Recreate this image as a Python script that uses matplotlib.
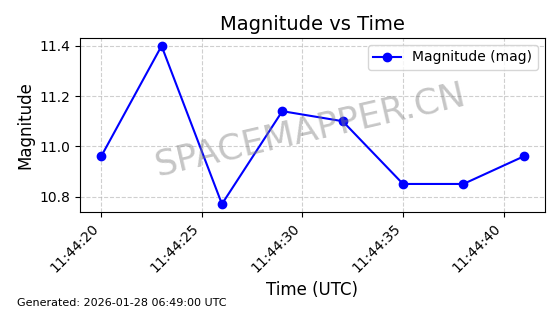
import matplotlib
matplotlib.use("Agg")
import matplotlib.pyplot as plt
import matplotlib.dates as mdates
from datetime import datetime

# data
times = ["11:44:20", "11:44:23", "11:44:26", "11:44:29",
         "11:44:32", "11:44:35", "11:44:38", "11:44:41"]
magnitudes = [10.96, 11.40, 10.77, 11.14, 11.10, 10.85, 10.85, 10.96]
generated = "Generated: 2026-01-28 06:49:00 UTC"

dts = [datetime.strptime("2026-01-28 " + t, "%Y-%m-%d %H:%M:%S") for t in times]

fig = plt.figure(figsize=(5.6, 3.14), dpi=100)
ax = fig.add_axes([0.143, 0.325, 0.83, 0.554])

ax.plot(dts, magnitudes, 'o-', color='blue', label='Magnitude (mag)')
ax.set_title('Magnitude vs Time', fontsize=14)
ax.set_xlabel('Time (UTC)', fontsize=12)
ax.set_ylabel('Magnitude', fontsize=12)
ax.grid(True, linestyle='--', alpha=0.6)
ax.legend(loc='upper right')

ax.xaxis.set_major_locator(mdates.SecondLocator(bysecond=range(0, 60, 5)))
ax.xaxis.set_major_formatter(mdates.DateFormatter('%H:%M:%S'))
plt.setp(ax.get_xticklabels(), rotation=45, ha='right')

# watermark
ax.text(0.495, 0.47, 'SPACEMAPPER.CN', transform=ax.transAxes, fontsize=25.5,
        color='gray', alpha=0.45, rotation=13, ha='center', va='center')

fig.text(0.03, 0.025, generated, fontsize=8)

fig.savefig('out.png', dpi=100)
